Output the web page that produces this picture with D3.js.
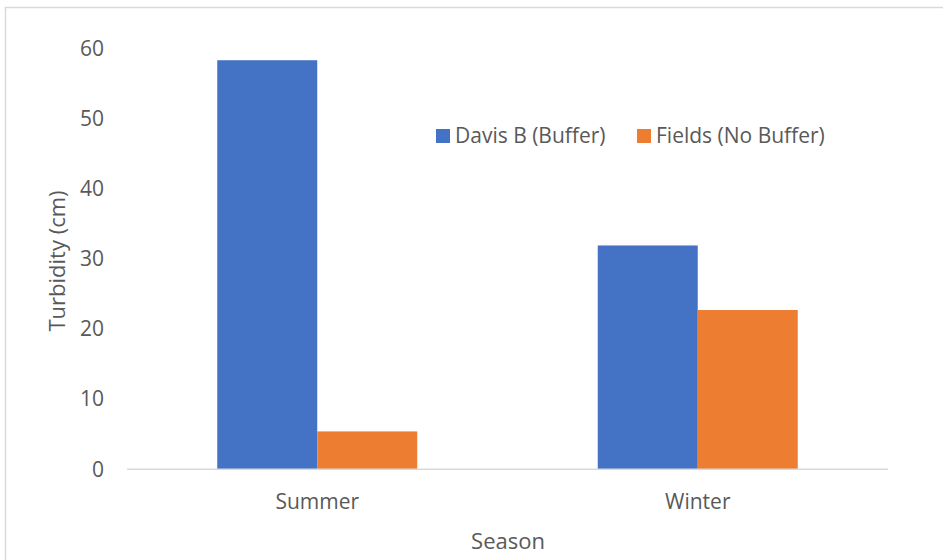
<!DOCTYPE html>
<html><head><meta charset="utf-8">
<script src="https://cdn.jsdelivr.net/npm/d3@7"></script>
<style>body{margin:0;background:#fff}svg{display:block}</style>
</head><body>
<script>
const categories = ["Summer", "Winter"];
const seriesNames = ["Davis B (Buffer)", "Fields (No Buffer)"];
const davisB = [58.3, 31.9];
const fields = [5.4, 22.7];
const yTicks = [0, 10, 20, 30, 40, 50, 60];
const colors = ["#4472C4", "#ED7D31"];

const W = 943, H = 560;
const font = "'Open Sans', sans-serif";
const svg = d3.select("body").append("svg").attr("width", W).attr("height", H);
svg.append("rect").attr("x", 5.5).attr("y", 7.5).attr("width", W + 10).attr("height", H + 10)
  .attr("fill", "#fff").attr("stroke", "#d9d9d9").attr("stroke-width", 1.5);

const x0 = d3.scaleBand().domain(categories).range([127, 888]).paddingInner(0.4744).paddingOuter(0.2372);
const x1 = d3.scaleBand().domain(seriesNames).range([0, x0.bandwidth()]);
const y = d3.scaleLinear().domain([0, 60]).range([469.3, 48.3]);

const data = categories.map((c, i) => ({cat: c, vals: [davisB[i], fields[i]]}));
const g = svg.append("g");
g.selectAll("g.grp").data(data).join("g").attr("class", "grp")
  .attr("transform", d => `translate(${x0(d.cat)},0)`)
  .selectAll("rect").data(d => d.vals.map((v, j) => ({v, j})))
  .join("rect")
  .attr("x", d => x1(seriesNames[d.j]))
  .attr("width", x1.bandwidth())
  .attr("y", d => y(d.v))
  .attr("height", d => y(0) - y(d.v))
  .attr("fill", d => colors[d.j]);

// baseline
svg.append("line").attr("x1", 127).attr("x2", 888).attr("y1", y(0)).attr("y2", y(0))
  .attr("stroke", "#d9d9d9").attr("stroke-width", 1.5);

// y axis labels
const yAxis = d3.axisLeft(y).tickValues(yTicks).tickSize(0).tickPadding(0);
const ya = svg.append("g").attr("transform", "translate(104,0)").call(yAxis);
ya.select(".domain").remove();
ya.selectAll("text").attr("font-family", font).attr("font-size", 21).attr("fill", "#595959");

// x axis labels
const xAxis = d3.axisBottom(x0).tickSize(0).tickPadding(0);
const xa = svg.append("g").attr("transform", `translate(0,${y(0) + 25})`).call(xAxis);
xa.select(".domain").remove();
xa.selectAll("text").attr("font-family", font).attr("font-size", 21).attr("fill", "#595959");

// axis titles
svg.append("text").attr("x", 508).attr("y", 549).attr("text-anchor", "middle")
  .attr("font-family", font).attr("font-size", 22).attr("fill", "#595959").text("Season");
svg.append("text").attr("transform", "translate(65,261) rotate(-90)").attr("text-anchor", "middle")
  .attr("font-family", font).attr("font-size", 22).attr("fill", "#595959").text("Turbidity (cm)");

// legend
const legendX = [436, 637];
const lg = svg.append("g");
seriesNames.forEach((s, i) => {
  lg.append("rect").attr("x", legendX[i]).attr("y", 129).attr("width", 14).attr("height", 14).attr("fill", colors[i]);
  lg.append("text").attr("x", legendX[i] + 19).attr("y", 136).attr("dy", "0.35em")
    .attr("font-family", font).attr("font-size", 21).attr("fill", "#595959").text(s);
});
</script>
</body></html>
